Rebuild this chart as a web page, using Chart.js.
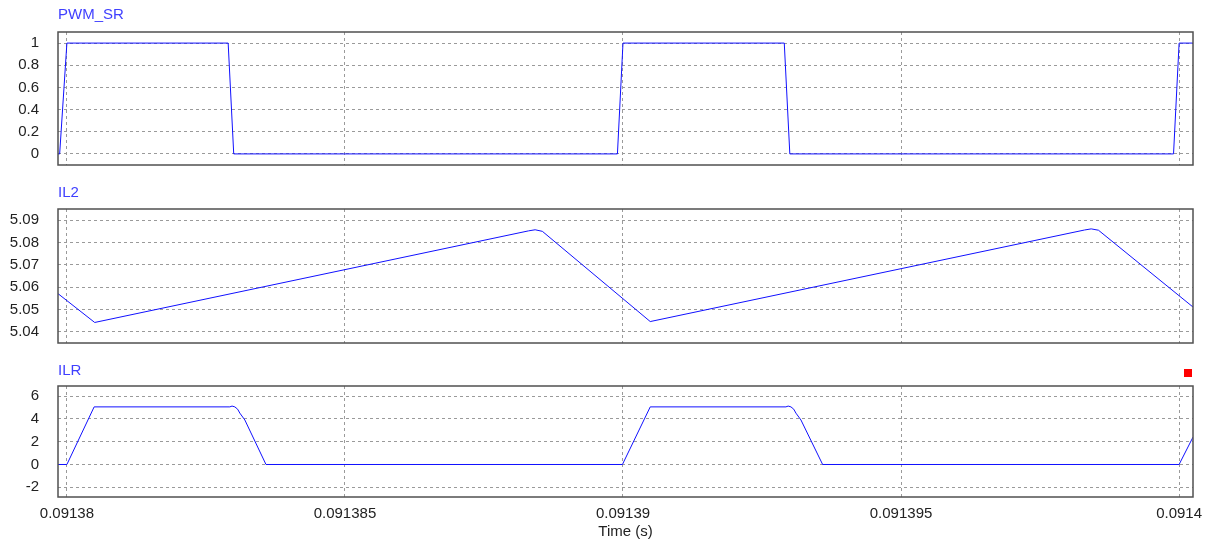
<!DOCTYPE HTML>
<html lang="en">
<head>
  <meta http-equiv="content-type" content="text/html; charset=UTF-8">
  <script src="https://cdn.jsdelivr.net/npm/chart.js"></script>
  <style>
    body { margin:0; background:#fff; font-family:"Liberation Sans", Arial, sans-serif; }
    #page { position:relative; width:1213px; height:543px; overflow:hidden; }
    .pane { position:absolute; left:0; width:1213px; }
    .pane canvas { display:block; }
    .name { position:absolute; left:58px; font-size:15px; color:#3f3fff; z-index:2; }
  </style>
</head>

<body>
  <div id="page">
    <div class="pane" style="top:0px; height:180px"><canvas id="c_pwm" width="1213" height="180"></canvas></div>
    <div class="pane" style="top:180px; height:170px"><canvas id="c_il2" width="1213" height="170"></canvas></div>
    <div class="pane" style="top:350px; height:193px"><canvas id="c_ilr" width="1213" height="193"></canvas></div>
    <div class="name" style="top:5px">PWM_SR</div>
    <div class="name" style="top:183px">IL2</div>
    <div class="name" style="top:361px">ILR</div>
  </div>

  <script>
    // time axis (s)
    const timeMin = 0.09137984;
    const timeMax = 0.09140025;
    const timeTicks = [0.09138, 0.091385, 0.09139, 0.091395, 0.0914];
    const timeLabels = ['0.09138', '0.091385', '0.09139', '0.091395', '0.0914'];

    // gate signal
    const pwmTime  = [0.09137984, 0.09137987, 0.09138, 0.0913829, 0.091383, 0.0913899, 0.09139, 0.0913929, 0.091393, 0.0913999, 0.0914, 0.09140025];
    const pwmValue = [0, 0, 1, 1, 0, 0, 1, 1, 0, 0, 1, 1];
    const pwmTicks = [0, 0.2, 0.4, 0.6, 0.8, 1];
    const pwmLabels = ['0', '0.2', '0.4', '0.6', '0.8', '1'];

    // inductor current IL2 (A)
    const il2Time  = [0.09137984, 0.0913805, 0.0913883, 0.09138842, 0.09138855, 0.09139049, 0.0913983, 0.09139842, 0.09139855, 0.09140025];
    const il2Value = [5.0571, 5.0442, 5.0852, 5.0857, 5.0850, 5.0446, 5.0856, 5.0861, 5.0855, 5.0511];
    const il2Ticks = [5.04, 5.05, 5.06, 5.07, 5.08, 5.09];
    const il2Labels = ['5.04', '5.05', '5.06', '5.07', '5.08', '5.09'];

    // resonant current ILR (A)
    const ilrTime  = [0.09137984, 0.09138, 0.09138049, 0.09138293, 0.09138297, 0.09138302, 0.09138307, 0.09138311, 0.0913832, 0.09138358,
                      0.09138999, 0.09139049, 0.09139293, 0.09139297, 0.09139302, 0.09139307, 0.09139311, 0.0913932, 0.09139359,
                      0.0914, 0.09140025];
    const ilrValue = [0, 0, 5.05, 5.05, 5.12, 5.05, 4.85, 4.5, 3.9, 0,
                      0, 5.05, 5.05, 5.12, 5.05, 4.85, 4.5, 3.9, 0,
                      0, 2.4];
    const ilrTicks = [-2, 0, 2, 4, 6];
    const ilrLabels = ['-2', '0', '2', '4', '6'];

    Chart.defaults.font.family = '"Liberation Sans", Arial, sans-serif';
    Chart.defaults.font.size = 15;
    Chart.defaults.color = '#222';

    // dark box round the plot area
    const frame = {
      id: 'frame',
      afterDraw(chart) {
        const a = chart.chartArea, ctx = chart.ctx;
        ctx.save();
        ctx.strokeStyle = '#505050';
        ctx.lineWidth = 1.5;
        ctx.strokeRect(a.left, a.top, a.right - a.left, a.bottom - a.top);
        ctx.restore();
      }
    };

    // small red marker above the last panel
    const marker = {
      id: 'marker',
      afterDraw(chart) {
        const a = chart.chartArea, ctx = chart.ctx;
        ctx.save();
        ctx.fillStyle = '#ff0000';
        ctx.fillRect(a.right - 9, a.top - 17, 8, 8);
        ctx.restore();
      }
    };

    function makePlot(id, times, values, yMin, yMax, yTicks, yLabels, padTop, padBottom, showTime, extra) {
      return new Chart(document.getElementById(id), {
        type: 'line',
        data: {
          datasets: [{
            data: times.map((t, i) => ({ x: t, y: values[i] })),
            borderColor: '#1010ff',
            borderWidth: 1,
            pointRadius: 0,
            tension: 0,
            fill: false,
          }],
        },
        options: {
          responsive: false,
          maintainAspectRatio: false,
          animation: false,
          events: [],
          layout: { padding: { left: 0, right: 20, top: padTop, bottom: padBottom } },
          plugins: { legend: { display: false }, tooltip: { enabled: false } },
          scales: {
            x: {
              type: 'linear', min: timeMin, max: timeMax,
              afterBuildTicks: s => { s.ticks = timeTicks.map(v => ({ value: v })); },
              afterFit: s => {
                s.height = showTime ? 46 : 0;
                s.paddingLeft = 0; s.paddingRight = 0;
              },
              grid: { color: '#9a9a9a', drawTicks: false },
              border: { display: false, dash: [3, 3] },
              ticks: {
                display: showTime, autoSkip: false, maxRotation: 0, padding: 8,
                callback: (v, i) => timeLabels[i],
              },
              title: { display: showTime, text: 'Time (s)', padding: { top: 0, bottom: 2 } },
            },
            y: {
              min: yMin, max: yMax,
              afterBuildTicks: s => { s.ticks = yTicks.map(v => ({ value: v })); },
              afterFit: s => {
                s.width = 58;
                s.paddingTop = 0; s.paddingBottom = 0;
              },
              grid: { color: '#9a9a9a', drawTicks: false },
              border: { display: false, dash: [3, 3] },
              ticks: { padding: 19, callback: (v, i) => yLabels[i] },
            },
          },
        },
        plugins: extra ? [frame, extra] : [frame],
      });
    }

    makePlot('c_pwm', pwmTime, pwmValue, -0.1, 1.1, pwmTicks, pwmLabels, 32, 15, false);
    makePlot('c_il2', il2Time, il2Value, 5.035, 5.095, il2Ticks, il2Labels, 29, 7, false);
    makePlot('c_ilr', ilrTime, ilrValue, -2.85, 6.88, ilrTicks, ilrLabels, 36, 0, true, marker);
  </script>
</body>
</html>
